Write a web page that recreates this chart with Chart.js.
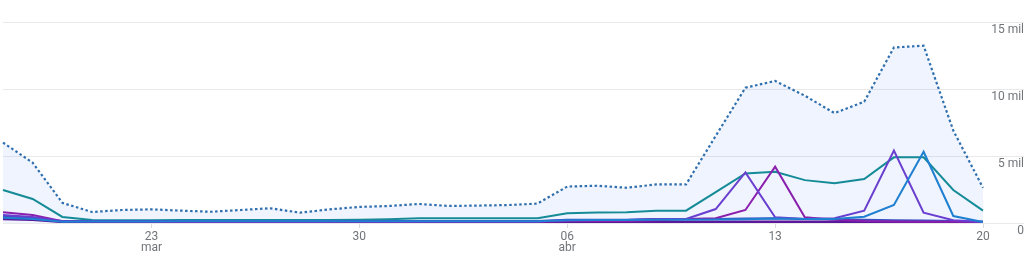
<!DOCTYPE html>
<html><head><meta charset="utf-8">
<script src="https://cdn.jsdelivr.net/npm/chart.js@4"></script>
<style>html,body{margin:0;padding:0;background:#fff;overflow:hidden}#wrap{width:1024px;height:258px;position:relative}</style>
</head><body><div id="wrap"><canvas id="c"></canvas></div>
<script>
const dates = ['18 mar','19 mar','20 mar','21 mar','22 mar','23 mar','24 mar','25 mar','26 mar','27 mar','28 mar','29 mar','30 mar','31 mar',
  '01 abr','02 abr','03 abr','04 abr','05 abr','06 abr','07 abr','08 abr','09 abr','10 abr','11 abr','12 abr','13 abr','14 abr','15 abr','16 abr','17 abr','18 abr','19 abr','20 abr'];
const tickDates = ['23 mar','30 mar','06 abr','13 abr','20 abr'];
const tickTexts = [['23','mar'],['30'],['06','abr'],['13'],['20']];
const yTickValues = [0,5000,10000,15000];
const yTickTexts = ['0','5 mil','10 mil','15 mil'];

const totalSeries = [6000,4500,1500,820,970,1020,920,840,970,1100,770,1020,1200,1270,1420,1270,1300,1340,1450,2720,2780,2630,2880,2880,6500,10100,10600,9500,8200,9050,13100,13230,6900,2630];
const tealSeries = [2460,1790,450,220,200,200,220,230,220,220,230,230,250,280,350,350,350,350,350,720,780,800,920,920,2300,3700,3830,3200,2960,3280,4900,4900,2460,920];
const violetSeries = [600,450,120,110,110,110,110,110,110,110,110,110,110,110,110,110,110,110,110,200,220,220,300,300,1040,3780,420,300,350,920,5400,770,200,80];
const magentaSeries = [800,600,130,100,100,100,100,100,100,100,100,100,100,100,100,100,100,100,100,150,150,150,200,300,350,970,4200,420,250,150,120,100,100,80];
const blueSeries = [400,300,100,120,120,120,130,130,130,130,130,130,130,130,130,130,130,130,130,200,220,220,250,250,260,280,330,300,300,470,1340,5320,520,80];
const indigoSeries = [500,400,150,150,150,150,150,150,150,150,150,150,150,150,150,150,150,150,150,250,250,250,300,300,300,330,350,300,280,250,200,180,150,100];
const baseSeries = [300,250,80,80,80,80,80,80,80,80,80,80,80,80,80,80,80,80,80,100,100,100,100,100,100,100,100,100,100,100,100,100,100,80];

const tickIdx = tickDates.map(d => dates.indexOf(d));

function line(data, color, extra) {
  return Object.assign({data, borderColor: color, borderWidth: 2, pointRadius: 0, tension: 0, fill: false}, extra || {});
}

new Chart(document.getElementById('c'), {
  type: 'line',
  data: {
    labels: dates,
    datasets: [
      line(blueSeries, '#1f7fd0'),
      line(violetSeries, '#6a3fd0'),
      line(magentaSeries, '#8a1fae'),
      line(indigoSeries, '#3c4fc0'),
      line(baseSeries, '#5a189a', {borderWidth: 2.5}),
      line(tealSeries, '#168b98'),
      line(totalSeries, '#2f6fae', {borderDash: [2.5, 2.5], borderWidth: 2.2, fill: 'origin', backgroundColor: 'rgba(66,133,244,0.085)'})
    ]
  },
  options: {
    responsive: true, maintainAspectRatio: false, animation: false,
    layout: {padding: {top: 22, left: 0, right: 0, bottom: 0}},
    plugins: {legend: {display: false}, tooltip: {enabled: false}, filler: {drawTime: 'beforeDatasetsDraw'}},
    scales: {
      x: {
        type: 'category', offset: false,
        border: {display: false},
        grid: {drawOnChartArea: false, drawTicks: true, tickLength: 5,
               color: ctx => tickIdx.includes(ctx.index) ? '#dadce0' : 'rgba(0,0,0,0)'},
        ticks: {autoSkip: false, maxRotation: 0, minRotation: 0, padding: 3,
                color: '#70757a', font: {family: 'Roboto', size: 12, lineHeight: 0.95},
                callback: (v, i) => { const k = tickIdx.indexOf(i); return k >= 0 ? tickTexts[k] : ''; }},
        afterFit: s => { s.height = 35; }
      },
      y: {
        position: 'right', min: 0, max: 15000,
        border: {display: false},
        grid: {color: '#e9e9e9', lineWidth: 1, drawTicks: true, tickLength: 41},
        afterBuildTicks: s => { s.ticks = yTickValues.map(v => ({value: v})); },
        ticks: {crossAlign: 'far', labelOffset: 8, padding: 0,
                color: '#70757a', font: {family: 'Roboto', size: 12},
                callback: v => yTickTexts[yTickValues.indexOf(v)]},
        afterFit: s => { s.width = 41; }
      }
    }
  }
});
</script></body></html>
